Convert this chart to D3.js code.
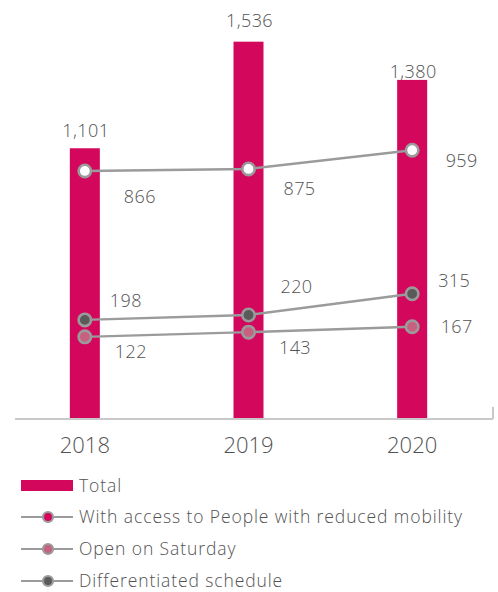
<!DOCTYPE html>
<html>
<head>
<meta charset="utf-8">
<script src="https://cdn.jsdelivr.net/npm/d3@7/dist/d3.min.js"></script>
<style>
  html, body { margin: 0; padding: 0; background: #fff; }
  svg { display: block; }
  text { font-family: "Open Sans", sans-serif; font-weight: 300; fill: #525252; }
</style>
</head>
<body>
<svg id="chart" width="498" height="592"></svg>
<script>
// Branch network, 2018–2020
const years = ["2018", "2019", "2020"];
const totalBranches = [1101, 1536, 1380];
const reducedMobility = [866, 875, 959];
const openSaturday = [122, 143, 167];
const differentiatedSchedule = [198, 220, 315];

const legendLabels = [
  "Total",
  "With access to People with reduced mobility",
  "Open on Saturday",
  "Differentiated schedule"
];

const colors = {
  bar: "#d3075b",
  line: "#9b9b9b",
  axis: "#c9c9c9",
  mobility: "#d3075b",
  saturday: "#c8607f",
  schedule: "#5a5a5a"
};

const svg = d3.select("#chart");
const baseY = 418, topY = 26;

const x = d3.scalePoint().domain(years).range([3, 494]).padding(0.5);
const yBar = d3.scaleLinear().domain([0, 1600]).range([baseY, topY]);
const yLine = d3.scaleLinear().domain([-242, 1516]).range([baseY, topY]);
const fmt = d3.format(",");
const barW = 30;

// bars
svg.append("g").selectAll("rect")
  .data(years.map((y, i) => ({ year: y, v: totalBranches[i] })))
  .join("rect")
  .attr("x", d => x(d.year) - barW / 2)
  .attr("y", d => yBar(d.v))
  .attr("width", barW)
  .attr("height", d => yBar(0) - yBar(d.v))
  .attr("fill", colors.bar);

// bar value labels (baseline nudges per bar)
const barLabelDy = [-11, -15, -2];
svg.append("g").selectAll("text")
  .data(years.map((y, i) => ({ year: y, v: totalBranches[i], i })))
  .join("text")
  .attr("x", d => x(d.year) + 1)
  .attr("y", d => yBar(d.v) + barLabelDy[d.i])
  .attr("text-anchor", "middle")
  .attr("font-size", 18)
  .attr("letter-spacing", 0.4)
  .text(d => fmt(d.v));

// category axis
const axisG = svg.append("g").attr("transform", `translate(0,${baseY + 1})`);
axisG.append("line")
  .attr("x1", 15).attr("x2", 493).attr("y1", 0).attr("y2", 0)
  .attr("stroke", colors.axis).attr("stroke-width", 2);
axisG.append("line")
  .attr("x1", 493).attr("x2", 493).attr("y1", -12).attr("y2", 0)
  .attr("stroke", colors.axis).attr("stroke-width", 2);
axisG.selectAll("text.year")
  .data(years)
  .join("text")
  .attr("class", "year")
  .attr("x", d => x(d))
  .attr("y", 34)
  .attr("text-anchor", "middle")
  .attr("font-size", 22)
  .text(d => d);

// line series on the secondary scale
const series = [
  { values: reducedMobility, fill: "#ffffff", nudge: [[55, 32], [51, 26], [49.5, 17]] },
  { values: openSaturday, fill: colors.saturday, nudge: [[46, 21], [46.5, 22], [44.5, 6]] },
  { values: differentiatedSchedule, fill: colors.schedule, nudge: [[41, -13], [48, -22], [42, -7]] }
];

const lineGen = d3.line().x(d => x(d.year)).y(d => yLine(d.v));

series.forEach(s => {
  const pts = years.map((y, i) => ({ year: y, v: s.values[i], i }));
  const g = svg.append("g");
  g.append("path")
    .attr("d", lineGen(pts))
    .attr("fill", "none")
    .attr("stroke", colors.line)
    .attr("stroke-width", 2.4);
  g.selectAll("circle")
    .data(pts)
    .join("circle")
    .attr("cx", d => x(d.year))
    .attr("cy", d => yLine(d.v))
    .attr("r", 6.2)
    .attr("fill", s.fill)
    .attr("stroke", colors.line)
    .attr("stroke-width", 2.6);
  g.selectAll("text")
    .data(pts)
    .join("text")
    .attr("x", d => x(d.year) + s.nudge[d.i][0])
    .attr("y", d => yLine(d.v) + s.nudge[d.i][1])
    .attr("text-anchor", "middle")
    .attr("font-size", 18)
    .attr("letter-spacing", 0.4)
    .text(d => fmt(d.v));
});

// legend
const legend = svg.append("g");
const rowY = [485.5, 517, 549, 581];
const markerFills = [null, colors.mobility, colors.saturday, colors.schedule];
legendLabels.forEach((label, i) => {
  const row = legend.append("g").attr("transform", `translate(0,${rowY[i]})`);
  if (i === 0) {
    row.append("rect")
      .attr("x", 21).attr("y", -5.5).attr("width", 52).attr("height", 11)
      .attr("fill", colors.bar);
  } else {
    row.append("line")
      .attr("x1", 21).attr("x2", 73).attr("y1", 0).attr("y2", 0)
      .attr("stroke", colors.line).attr("stroke-width", 2);
    row.append("circle")
      .attr("cx", 48).attr("cy", 0).attr("r", 5)
      .attr("fill", markerFills[i])
      .attr("stroke", colors.line).attr("stroke-width", 2.2);
  }
  row.append("text")
    .attr("x", 79)
    .attr("y", 0)
    .attr("dy", "0.35em")
    .attr("font-size", 17.5)
    .attr("letter-spacing", 0.9)
    .text(label);
});
</script>
</body>
</html>
